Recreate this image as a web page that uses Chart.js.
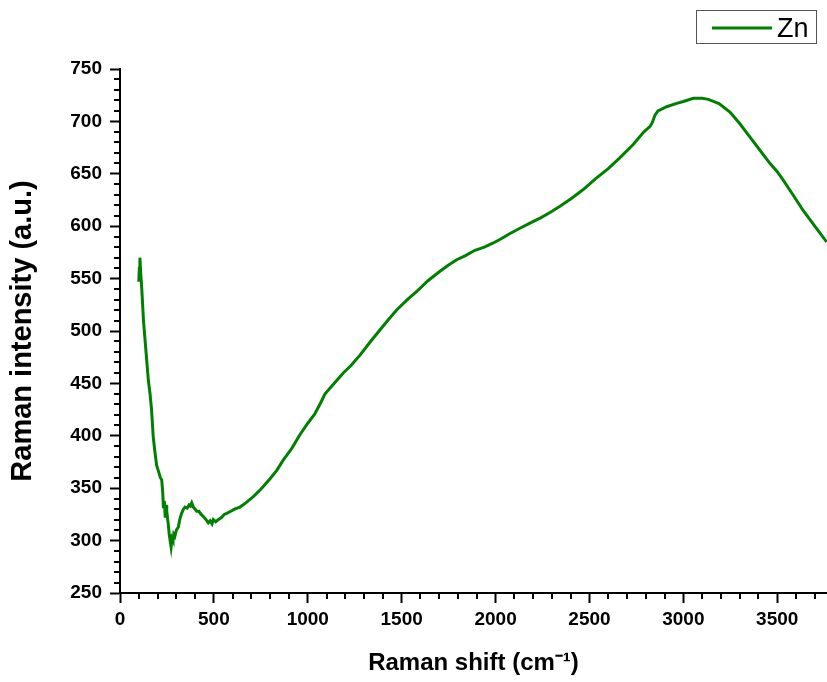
<!DOCTYPE html>
<html>
<head>
<meta charset="utf-8">
<title>Raman spectrum - Zn</title>
<script src="https://cdn.jsdelivr.net/npm/chart.js@4.4.1/dist/chart.umd.min.js"></script>
<style>
  html, body { margin: 0; padding: 0; background: #fff; }
  #wrap { width: 827px; height: 682px; }
</style>
</head>
<body>
<div id="wrap"><canvas id="ramanChart" width="827" height="682"></canvas></div>
<script>
// Spectrum values
const ramanShift = [
  100, 103, 106, 110, 116, 125, 135, 145, 151, 160, 168, 177, 185, 195, 205, 215, 222, 228, 231, 236,
  241, 246, 249, 254, 257, 262, 267, 272, 277, 282, 286, 292, 300, 311, 318, 328, 338, 346, 358, 368,
  375, 382, 390, 400, 408, 420, 432, 444, 458, 470, 480, 490, 497, 510, 523, 540, 555, 568, 590, 610,
  639, 670, 710, 750, 799, 835, 870, 915, 958, 1000, 1038, 1070, 1092, 1140, 1189, 1230, 1278, 1330, 1384, 1430,
  1473, 1530, 1588, 1640, 1704, 1750, 1793, 1840, 1890, 1940, 1988, 2030, 2077, 2130, 2183, 2240, 2290, 2343, 2400, 2467,
  2530, 2600, 2660, 2733, 2790, 2822, 2835, 2849, 2865, 2911, 2960, 3000, 3053, 3100, 3133, 3190, 3248, 3300, 3355, 3410,
  3461, 3500, 3532, 3580, 3638, 3700, 3763
];
const intensity = [
  547, 560, 570, 556, 540, 510, 488, 466, 453, 440, 425, 399, 386, 372, 366, 360, 358, 345, 331, 338,
  322, 334, 328, 320, 316, 306, 300, 294, 302, 300, 306, 304, 310, 313, 320, 326, 330, 332, 331, 334,
  333, 336, 332, 330, 328, 328, 325, 323, 320, 317, 319, 316, 320, 318, 320, 322, 325, 326, 328, 330,
  332, 336, 342, 349, 359, 367, 377, 388, 401, 412, 421, 432, 440, 450, 460, 467, 477, 489, 501, 511,
  520, 530, 539, 548, 557, 563, 568, 572, 577, 580, 584, 588, 593, 598, 603, 608, 613, 619, 626, 635,
  645, 655, 665, 678, 690, 695, 699, 706, 710, 714, 717, 719, 722, 722, 721, 717, 709, 698, 685, 672,
  660, 652, 644, 631, 615, 600, 585
];

// Axis ticks
const xTicks = [0, 500, 1000, 1500, 2000, 2500, 3000, 3500];
const yTicks = [250, 300, 350, 400, 450, 500, 550, 600, 650, 700, 750];

const seriesName = 'Zn';
const xTitle = 'Raman shift (cm\u207B\u00B9)';
const yTitle = 'Raman intensity (a.u.)';

const fontFamily = "'Liberation Sans', Arial, Helvetica, sans-serif";
const lineColor = 'rgb(0, 128, 0)';

// Minor ticks and the boxed legend
const extrasPlugin = {
  id: 'extras',
  afterDraw(chart) {
    const ctx = chart.ctx;
    const xs = chart.scales.x;
    const ys = chart.scales.y;
    const area = chart.chartArea;
    ctx.save();
    ctx.strokeStyle = '#000';
    ctx.lineWidth = 2;
    ctx.beginPath();
    for (let v = 100; v <= xs.max; v += 100) {
      if (v % 500 === 0) continue;
      const px = Math.round(xs.getPixelForValue(v));
      ctx.moveTo(px, area.bottom);
      ctx.lineTo(px, area.bottom + 6);
    }
    for (let v = ys.min + 10; v < ys.max; v += 10) {
      if (v % 50 === 0) continue;
      const py = Math.round(ys.getPixelForValue(v));
      ctx.moveTo(area.left - 6, py);
      ctx.lineTo(area.left, py);
    }
    ctx.stroke();

    // legend box
    ctx.strokeStyle = '#555';
    ctx.lineWidth = 1;
    ctx.strokeRect(696.5, 10.5, 120, 33);
    ctx.strokeStyle = lineColor;
    ctx.lineWidth = 3;
    ctx.beginPath();
    ctx.moveTo(712, 28);
    ctx.lineTo(772, 28);
    ctx.stroke();
    ctx.fillStyle = '#000';
    ctx.font = '27px ' + fontFamily;
    ctx.textBaseline = 'alphabetic';
    ctx.fillText(seriesName, 777, 37);
    ctx.restore();
  }
};

const ctx = document.getElementById('ramanChart').getContext('2d');
const ramanChart = new Chart(ctx, {
  type: 'scatter',
  data: {
    datasets: [{
      label: seriesName,
      data: ramanShift.map((x, i) => ({ x: x, y: intensity[i] })),
      showLine: true,
      borderColor: lineColor,
      backgroundColor: lineColor,
      borderWidth: 3,
      pointRadius: 0,
      tension: 0
    }]
  },
  options: {
    responsive: false,
    animation: false,
    layout: { padding: { top: 69, right: 0, bottom: 0, left: 0 } },
    plugins: {
      legend: { display: false },
      tooltip: { enabled: false }
    },
    scales: {
      x: {
        type: 'linear',
        min: 0,
        max: 3765,
        afterFit: s => { s.height = 89; },
        afterBuildTicks: s => { s.ticks = xTicks.map(v => ({ value: v })); },
        border: { display: true, color: '#000', width: 2 },
        grid: { drawOnChartArea: false, drawTicks: true, tickLength: 10, tickWidth: 2, tickColor: '#000' },
        ticks: {
          autoSkip: false,
          maxRotation: 0,
          padding: 5,
          color: '#000',
          callback: v => String(v),
          font: { family: fontFamily, size: 19, weight: 'bold' }
        },
        title: {
          display: true,
          text: xTitle,
          color: '#000',
          padding: { top: 0, bottom: 4 },
          font: { family: fontFamily, size: 24, weight: 'bold' }
        }
      },
      y: {
        type: 'linear',
        min: 250,
        max: 750,
        afterFit: s => { s.width = 120; },
        afterBuildTicks: s => { s.ticks = yTicks.map(v => ({ value: v })); },
        border: { display: true, color: '#000', width: 2 },
        grid: { drawOnChartArea: false, drawTicks: true, tickLength: 10, tickWidth: 2, tickColor: '#000' },
        ticks: {
          autoSkip: false,
          padding: 8,
          color: '#000',
          callback: v => String(v),
          font: { family: fontFamily, size: 19, weight: 'bold' }
        },
        title: {
          display: true,
          text: yTitle,
          color: '#000',
          padding: { top: 6, bottom: 0 },
          font: { family: fontFamily, size: 29, weight: 'bold' }
        }
      }
    }
  },
  plugins: [extrasPlugin]
});
</script>
</body>
</html>
